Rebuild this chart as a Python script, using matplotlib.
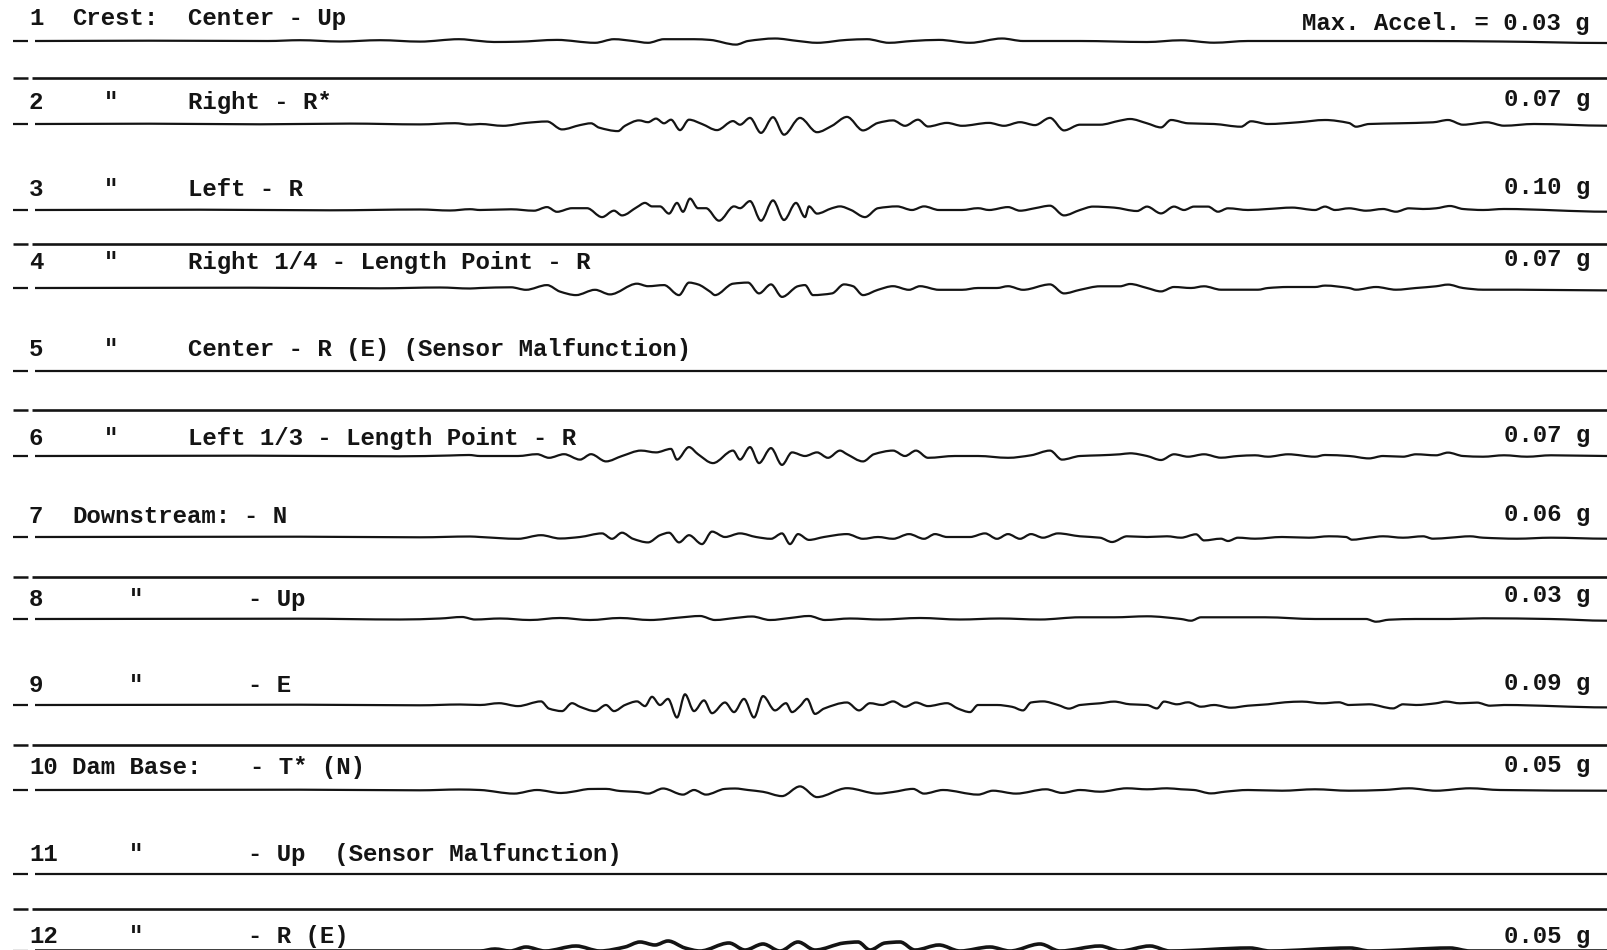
import matplotlib
matplotlib.use("Agg")
import matplotlib.pyplot as plt
from matplotlib.path import Path
from matplotlib.patches import PathPatch

# ---------------- data ----------------
channel_numbers = ["1", "2", "3", "4", "5", "6", "7", "8", "9", "10", "11", "12"]
stations = ["Crest:", '"', '"', '"', '"', '"', "Downstream:", '"', '"', "Dam Base:", '"', '"']
components = ["Center - Up", "Right - R*", "Left - R", "Right 1/4 - Length Point - R",
              "Center - R (E) (Sensor Malfunction)", "Left 1/3 - Length Point - R",
              "- N", "- Up", "- E", "- T* (N)", "- Up  (Sensor Malfunction)", "- R (E)"]
max_accel_g = [0.03, 0.07, 0.10, 0.07, None, 0.07, 0.06, 0.03, 0.09, 0.05, None, 0.05]

# traces: (record position, deflection) pairs read from the record
trace_01 = [(35, 0), (150, 0.3), (268, 0), (300, 0.8), (340, -0.5), (380, 0.8), (420, -0.6), (459, 1.8),
            (480, 0), (494, -1), (518, -0.7), (557, 1.1), (595, -1.8), (614, 1.8), (633, 0), (648, -1.8),
            (664, 1.8), (694, 1.8), (710, 1.1), (736, -3.6), (748, 0), (775, 2.5), (798, 0), (817, -1.8),
            (847, 1.1), (867, 1.8), (889, -1.8), (912, 0), (939, 1.1), (970, -1.8), (1002, 2.5), (1023, 0),
            (1080, 0), (1147, -1), (1181, 0.7), (1214, -1.7), (1248, 0), (1349, 0), (1416, 0), (1500, -0.5),
            (1607, -2)]
trace_02 = [(35, 0), (150, 0.3), (260, -0.3), (350, 0.4), (420, -0.4), (455, 0.8), (470, -0.6), (480, 0),
            (503, -1.8), (526, 1.1), (547, 2.5), (562, -5.4), (580, -1.1), (591, 0.7), (599, -3.6), (618, -7.1),
            (625, -1.8), (639, 3.6), (648, 1.8), (656, 5.4), (664, 0.7), (671, 4.3), (680, -6.1), (689, 4.3),
            (702, 0), (717, -6.1), (733, 2.9), (740, -0.7), (750, 6.1), (761, -8.9), (773, 6.8), (784, -10.7),
            (800, 6.1), (817, -8.2), (832, -1.8), (847, 7.1), (863, -6.4), (878, 1.1), (893, 3.6), (905, -1.8),
            (918, 4.3), (928, -2.5), (947, 1.1), (962, -1.8), (989, 1.1), (1004, -1.8), (1020, 1.8),
            (1035, -1.1), (1050, 6.1), (1064, -6.4), (1080, -0.7), (1100, -0.7), (1120, 3.4), (1130, 5),
            (1147, 0.7), (1161, -3.4), (1171, 4), (1188, 0.7), (1214, 0), (1241, -2.7), (1251, 2.7), (1268, 0),
            (1298, 1.7), (1325, 4), (1349, 1), (1356, -2.7), (1369, 0), (1399, 0.7), (1433, 1.7), (1448, 4),
            (1463, -0.7), (1487, 1.7), (1504, -1.7), (1534, 0), (1607, -1.7)]
trace_03 = [(35, 0), (200, 0.3), (330, -0.3), (420, 0.5), (450, -0.5), (470, 0.8), (480, 0), (511, 0.7),
            (534, -0.7), (547, 2.9), (557, -1.8), (572, 1.8), (587, 1.8), (602, -7.1), (614, -0.7), (622, -5.4),
            (637, 2.9), (645, 7.1), (652, 3.6), (660, 3.6), (669, -3.6), (677, 7.1), (683, -1.8), (690, 11.4),
            (698, 1.8), (706, 1.8), (719, -10.7), (734, 3.6), (740, 1.8), (750, 8.9), (761, -10.7), (773, 9.6),
            (784, -10), (796, 7.1), (805, -7.1), (809, 3.6), (817, -3.6), (832, 1.8), (840, 3.6), (851, 0),
            (865, -7.1), (878, 1.8), (897, 3.6), (912, 0), (924, 3.6), (939, 0), (962, 0), (978, 1.8), (989, 0),
            (1008, 2.9), (1020, -0.7), (1035, 1.8), (1050, 4.3), (1064, -5.4), (1080, 0), (1093, 3.4),
            (1114, 2.4), (1137, -1), (1147, 3.4), (1161, -3.4), (1174, 3.4), (1184, 0), (1194, 3.4),
            (1208, 3.4), (1218, -1.7), (1228, 1.7), (1248, 0), (1268, 1), (1292, 2.4), (1315, 0), (1325, 3.4),
            (1335, 0), (1349, 1.7), (1366, -0.7), (1383, 1), (1396, -1.7), (1409, 1.7), (1423, 1), (1436, 1.7),
            (1450, 4), (1463, 1), (1483, 0), (1504, 1), (1607, -1.7)]
trace_04 = [(35, 0), (250, 0.3), (380, -0.3), (440, 0.5), (470, -0.5), (480, 0), (511, 0.7), (526, -1.8),
            (547, 2.9), (560, -3.6), (576, -7.1), (595, -1.8), (610, -6.4), (637, 4.3), (648, 1.8), (664, 2.9),
            (679, -7.1), (689, 5.4), (698, 3.6), (710, -3.6), (715, -7.1), (733, 4.3), (748, 5.4), (759, -5.4),
            (771, 3.6), (782, -8.9), (798, 1.8), (805, 2.9), (813, -7.1), (832, -5.4), (844, 3.6), (853, 1.8),
            (863, -7.1), (878, -1.8), (893, 1.8), (909, -1.8), (920, 1.8), (939, -1.8), (962, -1.8), (978, 0),
            (997, 0), (1008, 1.8), (1023, -1.8), (1050, 3.6), (1064, -5.4), (1080, -1.8), (1100, 1.7),
            (1120, 1.7), (1130, 4), (1147, 0), (1161, -3.4), (1174, 1), (1191, 0), (1204, 1.7), (1221, -1.7),
            (1238, -1.7), (1258, -1.7), (1268, 0), (1288, 1), (1315, 1), (1325, 2.4), (1349, 0), (1356, -1.7),
            (1376, 1), (1396, -1.7), (1416, 0), (1436, 1.7), (1448, 3.4), (1463, 0), (1483, -1.7),
            (1517, -1.7), (1607, -2.4)]
trace_05 = [(35, 0), (1607, 0)]
trace_06 = [(35, 0), (250, 0.3), (400, -0.3), (450, 0.5), (469, 1), (480, 0), (518, 0), (537, 1.8),
            (549, -1.8), (564, 1.8), (580, -3.6), (591, 1.8), (606, -5.4), (622, 0), (641, 5.4), (656, 3.6),
            (671, 7.1), (677, -3.6), (689, 8.9), (698, 1.8), (713, -7.1), (733, 5.4), (740, -3.6), (750, 8.9),
            (759, -7.1), (771, 7.9), (782, -8.9), (792, 3.6), (805, 0), (817, 3.6), (828, -1.8), (840, 5.4),
            (847, 1.8), (863, -5.4), (874, 1.8), (893, 5.4), (905, 0), (916, 5.4), (928, -1.8), (955, 0),
            (978, 0), (1008, -1.8), (1031, 0.7), (1050, 5.4), (1062, -3.6), (1080, 0), (1100, 0.7), (1120, 1.7),
            (1130, 2.7), (1147, 0), (1161, -4), (1174, 1.7), (1188, -0.7), (1204, 1.7), (1221, -1.7), (1238, 0),
            (1255, 0.7), (1268, -0.7), (1288, 1.7), (1315, -0.7), (1325, 1), (1349, 0), (1369, -2.4), (1383, 0),
            (1403, -0.7), (1416, 1.7), (1436, 0.7), (1448, 3.4), (1463, 0), (1483, -0.7), (1504, 0.7),
            (1527, -0.7), (1551, 0.7), (1607, 0)]
trace_07 = [(35, 0), (300, 0.3), (420, -0.3), (470, 0.5), (480, 0), (518, -1.8), (541, 1.8), (560, -1.5),
            (580, 0), (602, 3.6), (612, -1.8), (622, 4.3), (633, -1.8), (648, -5.4), (660, 1.8), (669, 4.3),
            (679, -5.4), (689, 1.8), (702, -7.1), (712, 5.4), (725, 0), (740, 3.6), (756, 0), (771, -1.8),
            (782, 3.6), (790, -7.1), (798, 2.9), (809, -2.9), (824, 0), (847, 2.9), (863, -1.8), (878, 0),
            (893, -1.8), (909, 2.9), (924, -1.8), (935, 2.9), (947, 0), (970, 0), (985, 3.6), (997, -1.8),
            (1008, 2.9), (1020, -1.8), (1031, 2.9), (1043, -0.7), (1058, 3.6), (1080, 0.7), (1100, -0.7),
            (1112, -5), (1127, 0.7), (1147, 0), (1167, 0.7), (1181, -0.7), (1196, 2.7), (1204, -3.4),
            (1221, -1.7), (1228, -4), (1238, -0.7), (1255, -1.7), (1282, 0), (1309, -0.7), (1329, 0.7),
            (1346, 0), (1352, -2.7), (1369, -0.7), (1383, 0.7), (1403, -0.7), (1423, 0.7), (1433, -1.7),
            (1450, -0.7), (1470, 0.7), (1483, -0.7), (1517, -1.7), (1551, -0.7), (1607, -1.7)]
trace_08 = [(35, 0), (300, 0.3), (400, -0.5), (440, 0.5), (462, 2), (475, -0.5), (500, 0.5), (530, -1),
            (560, 1), (590, -1), (620, 1), (650, -1), (680, 1.5), (700, 3), (715, -1), (735, 1), (752, 2.5),
            (770, -1), (790, 1), (809, 3), (825, -1), (850, 0.5), (880, -0.5), (920, 1), (960, -0.5),
            (1000, 0.5), (1040, -0.5), (1080, 1.7), (1114, 1.7), (1147, 2.7), (1181, 0), (1191, -1.7),
            (1201, 1.7), (1231, 1.7), (1265, 1.7), (1315, 0), (1366, 0), (1376, -2.7), (1389, -0.7), (1416, 0),
            (1450, 0), (1483, 0.7), (1550, 0), (1607, -1.7)]
trace_09 = [(35, 0), (300, 0.3), (420, -0.3), (460, 0.5), (480, 0), (499, 1.8), (518, -1.1), (541, 3.6),
            (549, -3.6), (562, -6.1), (572, 1.8), (580, -1.8), (595, -6.1), (606, 0), (614, -6.1), (625, 0),
            (637, 3.6), (645, -1.1), (652, 8.2), (660, 0), (668, 6.1), (677, -12.5), (685, 10.7), (694, -6.1),
            (704, 4.6), (712, -8.2), (725, 2.5), (734, -7.1), (744, 6.1), (754, -12.5), (763, 8.9), (775, -5.4),
            (786, 1.8), (792, -7.1), (800, -1.1), (807, 6.1), (815, -8.9), (824, -3.6), (847, 2.5), (859, -5.4),
            (870, 1.8), (882, 0), (893, 3.6), (905, -1.8), (916, 2.5), (928, -1.1), (947, 1.8), (958, -3.6),
            (970, -7.1), (978, 0), (997, 0), (1012, -1.8), (1023, -5.4), (1031, 2.5), (1043, 3.6), (1058, 0),
            (1069, -3.6), (1080, 0), (1100, 1.7), (1114, 3.4), (1130, 0.7), (1147, 0), (1157, -3.4),
            (1164, 3.4), (1177, 0.7), (1188, 2.7), (1201, -1.7), (1214, 0), (1231, -2.7), (1248, -0.7),
            (1268, 0.7), (1285, 2.7), (1302, 3.4), (1322, 1.7), (1339, 2.7), (1349, 0), (1369, 0.7),
            (1393, -3.4), (1403, 0.7), (1416, 0), (1436, 1.7), (1446, 3.4), (1460, 1.7), (1477, 2.4),
            (1490, -0.7), (1504, 0), (1607, -2.4)]
trace_10 = [(35, 0), (300, 0.3), (420, -0.3), (459, 0.5), (480, 0), (514, -3.6), (537, 0), (561, -3),
            (572, -1.8), (590, 1), (606, 1.1), (620, -1), (638, -2), (648, -3.6), (663, 1.5), (683, -4.6),
            (694, 0), (706, -4.6), (725, 1.1), (735, 1.5), (748, 0), (763, -1.8), (782, -6.1), (800, 3.6),
            (817, -7.1), (847, 1.8), (878, -3.6), (893, -2), (913, 1.1), (924, -3.6), (943, 0), (978, -4.6),
            (993, -0.7), (1016, -3.6), (1046, 0.7), (1062, -2.9), (1080, 0), (1100, -1.7), (1127, 1.7),
            (1147, 0.7), (1167, 1.7), (1181, 0.7), (1194, 0), (1211, -3.4), (1225, -1.7), (1248, 0),
            (1282, -0.7), (1315, 0.7), (1349, -0.7), (1383, 0), (1409, 1.7), (1436, -0.7), (1470, 1.7),
            (1500, 0), (1607, -0.7)]
trace_11 = [(35, 0), (1607, 0)]
trace_12 = [(35, 0), (480, 0), (495, 2), (510, 0), (526, 4), (545, 0), (576, 5), (600, 0), (625, 4),
            (640, 9), (655, 6), (668, 10), (685, 3), (700, 0), (729, 8), (745, 1), (763, 7), (780, 0),
            (798, 9), (815, 1), (844, 8), (858, 9), (870, 1), (885, 8), (900, 9), (915, 1), (939, 6), (960, 0),
            (990, 4), (1010, 0), (1040, 7), (1060, 0), (1100, 5), (1120, 0), (1150, 5), (1170, 0), (1250, 3),
            (1270, 0), (1350, 3), (1370, 0), (1450, 3), (1470, 0), (1607, 0)]

traces = [trace_01, trace_02, trace_03, trace_04, trace_05, trace_06,
          trace_07, trace_08, trace_09, trace_10, trace_11, trace_12]

# ---------------- layout ----------------
W, H = 1607, 950
trace_base = [41, 124, 210, 288, 371, 456, 537, 619, 705, 790, 874, 951]
ref_lines = [78, 244, 410, 577, 745, 909]
label_base = [25, 109, 196, 269, 356, 445, 523, 606, 692, 774, 861, 943]
accel_base = [30, 106, 194, 266, None, 442, 521, 602, 690, 772, None, 943]
station_x = [72, 104, 104, 104, 104, 104, 72, 129, 129, 72, 129, 129]
comp_x = [188, 188, 188, 188, 188, 188, 244, 248, 248, 250, 248, 248]
trace_lw = [1.6] * 11 + [2.6]

INK = "#141414"
FONT = dict(family="Liberation Mono", size=17.3, color=INK, weight="bold")

fig = plt.figure(figsize=(W / 100, H / 100), dpi=100)
ax = fig.add_axes([0, 0, 1, 1])
ax.set_xlim(0, W)
ax.set_ylim(H, 0)
ax.axis("off")


def smooth_path(xs, ys):
    """Cubic Hermite curve through the recorded points (flat tangents at extrema)."""
    n = len(xs)
    m = []
    for i in range(n):
        if i == 0 or i == n - 1:
            m.append(0.0)
            continue
        d0 = (ys[i] - ys[i - 1]) / (xs[i] - xs[i - 1])
        d1 = (ys[i + 1] - ys[i]) / (xs[i + 1] - xs[i])
        m.append(0.0 if d0 * d1 <= 0 else 2 * d0 * d1 / (d0 + d1))
    verts = [(xs[0], ys[0])]
    codes = [Path.MOVETO]
    for i in range(n - 1):
        h = xs[i + 1] - xs[i]
        verts += [(xs[i] + h / 3, ys[i] + m[i] * h / 3),
                  (xs[i + 1] - h / 3, ys[i + 1] - m[i + 1] * h / 3),
                  (xs[i + 1], ys[i + 1])]
        codes += [Path.CURVE4] * 3
    return Path(verts, codes)


# reference (timing) lines
for y in ref_lines:
    ax.plot([13, 28], [y, y], color=INK, lw=1.8, solid_capstyle="butt")
    ax.plot([32, W], [y, y], color=INK, lw=1.9, solid_capstyle="butt")

# accelerogram traces
for base, tr, lw in zip(trace_base, traces, trace_lw):
    t = [p[0] for p in tr]
    y = [base - p[1] for p in tr]
    ax.plot([13, 28], [base, base], color=INK, lw=1.6, solid_capstyle="butt")
    ax.add_patch(PathPatch(smooth_path(t, y), fill=False, edgecolor=INK, lw=lw,
                           joinstyle="round", capstyle="butt"))

# labels
for i in range(12):
    yb = label_base[i]
    ax.text(29, yb, channel_numbers[i], va="baseline", ha="left", **FONT)
    ax.text(station_x[i], yb, stations[i], va="baseline", ha="left", **FONT)
    ax.text(comp_x[i], yb, components[i], va="baseline", ha="left", **FONT)
    if max_accel_g[i] is not None:
        s = f"{max_accel_g[i]:.2f} g"
        if i == 0:
            s = "Max. Accel. = " + s
        ax.text(1590, accel_base[i], s, va="baseline", ha="right", **FONT)

fig.savefig("out.png", dpi=100, facecolor="white")
